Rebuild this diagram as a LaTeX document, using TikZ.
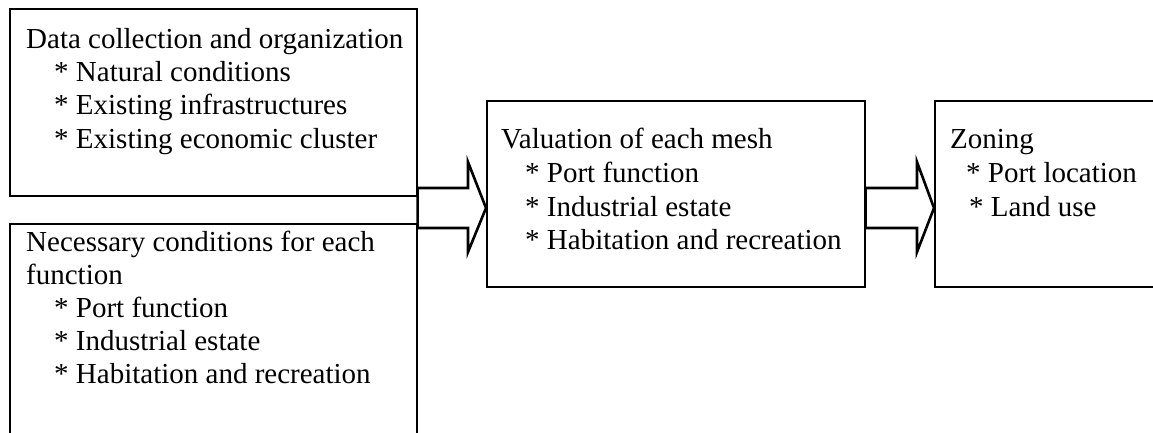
\documentclass[tikz,border=0pt]{standalone}
\usepackage{fontspec}
\setmainfont{Liberation Serif}
\begin{document}
\begin{tikzpicture}[x=1pt,y=-1pt,
  box/.style={draw, line width=1.6pt, inner sep=0pt, anchor=north west},
  txt/.style={anchor=base west, inner sep=0pt, font=\fontsize{29}{33}\selectfont},
  blk/.style={draw, line width=2.6pt, fill=white, line join=miter}]
\useasboundingbox (0,0) rectangle (1153,433);
\clip (0,0) rectangle (1153,433);
% boxes
\node[box, minimum width=407pt, minimum height=187pt] (data) at (9,8) {};
\node[box, minimum width=407pt, minimum height=260pt] (need) at (9,223) {};
\node[box, minimum width=378pt, minimum height=186pt] (mid) at (486,100) {};
\node[box, minimum width=240pt, minimum height=186pt] (zone) at (934,100) {};
% texts
\node[txt] (d1) at (26,49) {Data collection and organization};
\node[txt] (d2) at (54,82) {* Natural conditions};
\node[txt] (d3) at (54,115) {* Existing infrastructures};
\node[txt] (d4) at (54,148) {* Existing economic cluster};
\node[txt] (n1) at (26,251) {Necessary conditions for each};
\node[txt] (n2) at (26,284) {function};
\node[txt] (n3) at (54,317) {* Port function};
\node[txt] (n4) at (54,350) {* Industrial estate};
\node[txt] (n5) at (54,383) {* Habitation and recreation};
\node[txt] (m1) at (501,149) {Valuation of each mesh};
\node[txt] (m2) at (525,182.5) {* Port function};
\node[txt] (m3) at (525,216) {* Industrial estate};
\node[txt] (m4) at (525,249.5) {* Habitation and recreation};
\node[txt] (z1) at (950,149) {Zoning};
\node[txt] (z2) at (966,182.5) {* Port location};
\node[txt] (z3) at (969,216) {* Land use};
% block arrows
\draw[blk] (data.east |- 0,188) -- (468,188) -- (468,162) -- (mid.west |- 0,208)
  -- (468,252) -- (468,228) -- (data.east |- 0,228) -- cycle;
\draw[blk] (mid.east |- 0,188) -- (917,188) -- (917,162) -- (zone.west |- 0,208)
  -- (917,252) -- (917,228) -- (mid.east |- 0,228) -- cycle;
\end{tikzpicture}
\end{document}
